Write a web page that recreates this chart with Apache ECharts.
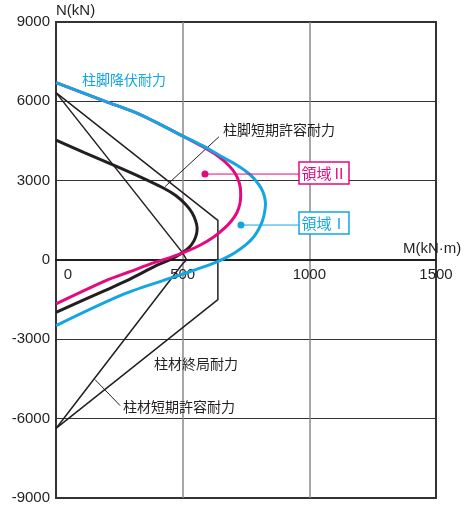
<!DOCTYPE html>
<html>
<head>
<meta charset="utf-8">
<script src="https://cdn.jsdelivr.net/npm/echarts@6/dist/echarts.min.js"></script>
<style>
html, body {margin: 0; padding: 0; background: #fff;}
#chart {width: 465px; height: 506px;}
</style>
</head>
<body>
<div id="chart"></div>
<script>
const CYAN = '#13a6e3'
const MAGENTA = '#e5097f'
const INK = '#231f20'
const JP = '"Noto Sans CJK JP", sans-serif'
const NUM = '"Liberation Sans", Arial, sans-serif'

const xTicks = [0, 500, 1000, 1500]
const yTicks = [-9000, -6000, -3000, 0, 3000, 6000, 9000]

// 柱脚降伏耐力 (M, N)
const baseYield = [
	[0, 6710], [197, 5992], [328, 5516], [499, 4697], [588, 4280], [655, 3903],
	[718, 3563], [762, 3261], [789, 2997], [811, 2695], [822, 2430], [827, 2127],
	[823, 1787], [815, 1485], [801, 1183], [781, 880], [750, 578], [706, 276],
	[663, 49], [608, -178], [482, -593], [272, -1273], [0, -2482]
]
// 領域II boundary
const region2 = [
	[0, 6710], [197, 5992], [328, 5516], [499, 4697], [580, 4280], [643, 3903],
	[683, 3563], [708, 3261], [722, 2959], [728, 2695], [729, 2430], [726, 2127],
	[714, 1787], [693, 1485], [663, 1183], [624, 880], [572, 578], [517, 332],
	[450, 87], [387, -102], [292, -442], [197, -782], [0, -1662]
]
// 柱脚短期許容耐力
const baseAllow = [
	[0, 4534], [114, 4054], [225, 3600], [332, 3147], [422, 2732], [474, 2430],
	[513, 2090], [537, 1787], [551, 1485], [557, 1220], [555, 997], [545, 733],
	[525, 468], [493, 238], [450, 11], [395, -215], [292, -725], [197, -1137],
	[0, -1980]
]
// 柱材短期許容耐力
const colAllow = [[0, 6330], [500, 270], [516, 0], [500, -140], [0, -6370]]
// 柱材終局耐力
const colUltimate = [[0, 6330], [639, 1500], [639, -1500], [0, -6370]]

const leaderBase = [[643, 4658], [430, 2770]]
const leaderCol = [[154, -4522], [253, -5504]]
const region2Pointer = [[588, 3250], [959, 3250]]
const region1Pointer = [[730, 1322], [959, 1322]]

const chart = echarts.init(document.getElementById('chart'))

const curve = (data, color, width, z) => ({
	type: 'line', data, smooth: 0.3, symbol: 'none', silent: true,
	lineStyle: {color, width}, z
})
const straight = (data, color, width, z) => ({
	type: 'line', data, symbol: 'none', silent: true,
	lineStyle: {color, width}, z
})
const pointer = (data, color) => ({
	type: 'line', data, silent: true, z: 6,
	symbol: 'circle',
	symbolSize: (v, p) => p.dataIndex === 0 ? 7 : 0,
	itemStyle: {color},
	lineStyle: {color, width: 1}
})

const label = (text, x, y, fill, size) => ({
	type: 'text', x, y, z: 100,
	style: {text, fill, font: `${size}px ${JP}`, verticalAlign: 'middle'}
})
const box = (text, y, color) => ([
	{
		type: 'rect', z: 100,
		shape: {x: 299, y, width: 50, height: 22},
		style: {fill: '#fff', stroke: color, lineWidth: 1.5}
	},
	{
		type: 'text', x: 324, y: y + 11, z: 101,
		style: {text, fill: color, font: `15px ${JP}`, align: 'center', verticalAlign: 'middle'}
	}
])

chart.setOption({
	animation: false,
	grid: {
		left: 56, top: 22, right: 29, bottom: 8,
		show: true, borderColor: '#333', borderWidth: 2
	},
	xAxis: {
		type: 'value', position: 'bottom', offset: -238.7,
		min: xTicks[0], max: xTicks[xTicks.length - 1], interval: 500,
		axisLine: {onZero: false, lineStyle: {color: INK, width: 2}},
		axisTick: {show: false},
		axisLabel: {
			margin: 8, color: INK, fontSize: 15, fontFamily: NUM,
			formatter: v => v === 0 ? '{z|0}' : String(v),
			rich: {z: {padding: [0, 0, 0, 24], color: INK, fontSize: 15, fontFamily: NUM}}
		},
		splitLine: {show: true, showMinLine: false, showMaxLine: false, lineStyle: {color: '#8a8a8a', width: 1.5}}
	},
	yAxis: {
		type: 'value',
		min: yTicks[0], max: yTicks[yTicks.length - 1], interval: 3000,
		axisLine: {show: false},
		axisTick: {show: false},
		axisLabel: {margin: 6, color: INK, fontSize: 15, fontFamily: NUM, formatter: v => String(v)},
		splitLine: {show: true, showMinLine: false, showMaxLine: false, lineStyle: {color: '#333', width: 1}}
	},
	series: [
		straight(colUltimate, INK, 1.5, 2),
		straight(colAllow, INK, 1.5, 2),
		straight(leaderBase, INK, 1, 2),
		straight(leaderCol, INK, 1, 2),
		curve(baseAllow, INK, 3, 3),
		curve(region2, MAGENTA, 3, 4),
		curve(baseYield, CYAN, 3, 5),
		pointer(region2Pointer, MAGENTA),
		pointer(region1Pointer, CYAN)
	],
	graphic: [
		{type: 'text', x: 56, y: 11, style: {text: 'N(kN)', fill: INK, font: `15px ${NUM}`, verticalAlign: 'middle'}},
		{type: 'text', x: 403, y: 249, style: {text: 'M(kN·m)', fill: INK, font: `15px ${NUM}`, verticalAlign: 'middle'}},
		label('柱脚降伏耐力', 82, 80, CYAN, 14),
		label('柱脚短期許容耐力', 223, 130, INK, 14),
		label('柱材終局耐力', 154, 364, INK, 14),
		label('柱材短期許容耐力', 123, 407, INK, 14),
		...box('領域Ⅱ', 162, MAGENTA),
		...box('領域Ⅰ', 212, CYAN)
	]
})
</script>
</body>
</html>
